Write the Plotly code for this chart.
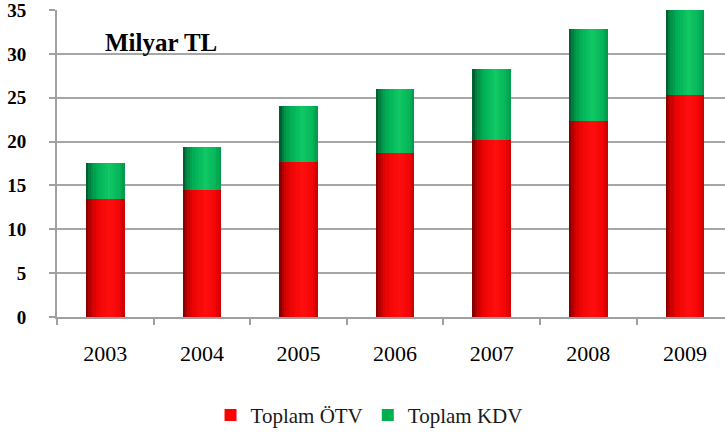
import plotly.graph_objects as go

years = ["2003", "2004", "2005", "2006", "2007", "2008", "2009"]
otv = [13.5, 14.5, 17.7, 18.7, 20.2, 22.4, 25.3]
kdv = [4.1, 4.9, 6.4, 7.3, 8.1, 10.4, 9.9]
y_ticks = [0, 5, 10, 15, 20, 25, 30, 35]

SERIF = "Liberation Serif, Times New Roman, serif"
BAR_W = 0.4
N_STRIPS = 16

red_stops = [(0.0, (115, 0, 0)), (0.12, (195, 0, 0)), (0.3, (238, 4, 4)),
             (0.6, (255, 14, 14)), (0.85, (244, 6, 6)), (1.0, (200, 0, 0))]
green_stops = [(0.0, (0, 80, 40)), (0.12, (0, 140, 70)), (0.3, (0, 176, 86)),
               (0.6, (16, 200, 100)), (0.85, (6, 182, 90)), (1.0, (0, 150, 74))]


def shade(stops, t):
    for (t0, c0), (t1, c1) in zip(stops[:-1], stops[1:]):
        if t0 <= t <= t1:
            f = (t - t0) / (t1 - t0)
            c = [round(a + (b - a) * f) for a, b in zip(c0, c1)]
            return "rgb(%d,%d,%d)" % tuple(c)
    return "rgb(%d,%d,%d)" % stops[-1][1]


fig = go.Figure()

fig.add_trace(go.Bar(x=years, y=otv, name="Toplam ÖTV", width=BAR_W,
                     marker=dict(color="#FF0000", line=dict(width=0)),
                     legendgroup="otv"))
fig.add_trace(go.Bar(x=years, y=kdv, base=otv, name="Toplam KDV", width=BAR_W,
                     marker=dict(color="#00B050", line=dict(width=0)),
                     legendgroup="kdv"))

strip = BAR_W / N_STRIPS
for i in range(N_STRIPS):
    left = -BAR_W / 2 + i * strip
    w = BAR_W / 2 - left
    t = (i + 0.5) / N_STRIPS
    fig.add_trace(go.Bar(x=years, y=otv, width=w, offset=left,
                         marker=dict(color=shade(red_stops, t), line=dict(width=0)),
                         showlegend=False, hoverinfo="skip", legendgroup="otv"))
    fig.add_trace(go.Bar(x=years, y=kdv, base=otv, width=w, offset=left,
                         marker=dict(color=shade(green_stops, t), line=dict(width=0)),
                         showlegend=False, hoverinfo="skip", legendgroup="kdv"))

fig.add_annotation(text="<b>Milyar TL</b>", xref="paper", yref="paper",
                   x=0.155, y=0.893, xanchor="center", yanchor="middle",
                   showarrow=False, font=dict(family=SERIF, size=25, color="#000000"))

fig.update_layout(
    width=725, height=435,
    margin=dict(l=57, r=0, t=10, b=118),
    paper_bgcolor="white", plot_bgcolor="white",
    barmode="overlay", bargap=0,
    font=dict(family=SERIF, color="#000000"),
    showlegend=True,
    legend=dict(orientation="h", xref="container", yref="container",
                x=0.509, y=0.045, xanchor="center", yanchor="middle",
                font=dict(family=SERIF, size=21, color="#1a1a1a"),
                itemwidth=30, bgcolor="rgba(0,0,0,0)"),
    xaxis=dict(type="category", range=[-0.5, 6.415], showgrid=False,
               showline=True, linecolor="#a0a0a0", linewidth=2,
               ticks="outside", tickson="boundaries", ticklen=6,
               tickcolor="#a0a0a0", tickwidth=1.5,
               tickfont=dict(family=SERIF, size=22, color="#000000"),
               ticklabelstandoff=16, zeroline=False, automargin=False),
    yaxis=dict(range=[0, 35.001], tickvals=y_ticks, showgrid=True,
               gridcolor="#a6a6a6", gridwidth=2,
               showline=True, linecolor="#a0a0a0", linewidth=2,
               ticks="outside", ticklen=6, tickcolor="#a0a0a0", tickwidth=1.5,
               tickfont=dict(family=SERIF, size=19, color="#000000", weight="bold"),
               ticklabelstandoff=19, ticklabeloverflow="allow",
               zeroline=False, automargin=False),
)

fig.write_html("out.html", config={"displayModeBar": False},
               post_script="document.body.style.margin='0';")
